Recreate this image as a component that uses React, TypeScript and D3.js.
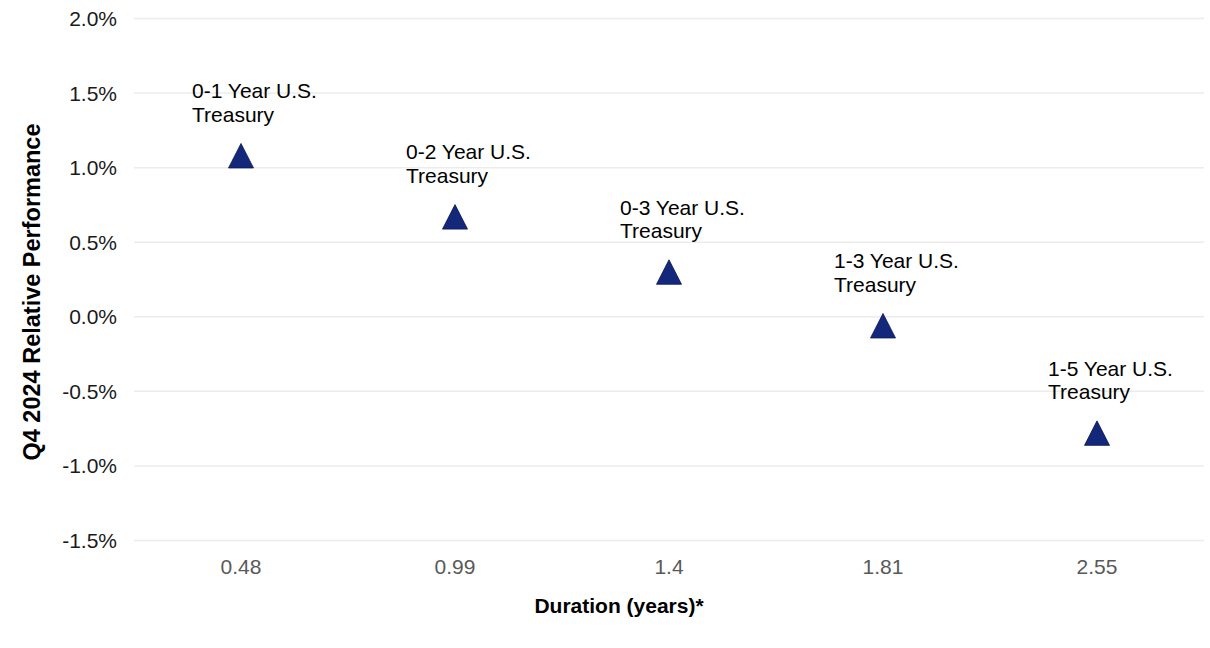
import * as d3 from 'd3'

// durations shown on the x axis (categorical)
const durations = ['0.48', '0.99', '1.4', '1.81', '2.55']
const funds = [
  '0-1 Year U.S.|Treasury',
  '0-2 Year U.S.|Treasury',
  '0-3 Year U.S.|Treasury',
  '1-3 Year U.S.|Treasury',
  '1-5 Year U.S.|Treasury',
]
// Q4 2024 relative performance, in percent
const performance = [1.08, 0.67, 0.3, -0.06, -0.78]
const yTicks = [2.0, 1.5, 1.0, 0.5, 0.0, -0.5, -1.0, -1.5]

const width = 1210
const height = 648
const margin = { top: 18.5, right: 6, bottom: 107.5, left: 134 }

const font = '"Liberation Sans", Arial, Helvetica, sans-serif'
const navy = '#13287a'

const triangle = (w: number, h: number) => {
  const p = d3.path()
  p.moveTo(0, -h / 2)
  p.lineTo(w / 2, h / 2)
  p.lineTo(-w / 2, h / 2)
  p.closePath()
  return p.toString()
}

export default function App() {
  const x = d3
    .scaleBand<string>()
    .domain(durations)
    .range([margin.left, width - margin.right])
  const y = d3
    .scaleLinear()
    .domain([-1.5, 2.0])
    .range([height - margin.bottom, margin.top])

  const fmt = (v: number) => `${v.toFixed(1)}%`
  const marker = triangle(25, 24.5)

  return (
    <svg
      width={width}
      height={height}
      style={{ position: 'absolute', left: 0, top: 0, background: '#fff' }}
      fontFamily={font}
    >
      {/* grid + y ticks */}
      {yTicks.map((t) => (
        <g key={t}>
          <line
            x1={margin.left}
            x2={width - margin.right}
            y1={y(t)}
            y2={y(t)}
            stroke="#ececec"
            strokeWidth={1.5}
          />
          <text
            x={117}
            y={y(t) + 7.5}
            textAnchor="end"
            fontSize={21}
            fill="#1a1a1a"
          >
            {fmt(t)}
          </text>
        </g>
      ))}

      {/* x ticks */}
      {durations.map((d) => (
        <text
          key={d}
          x={x(d)! + x.bandwidth() / 2}
          y={574}
          textAnchor="middle"
          fontSize={21}
          fill="#595959"
        >
          {d}
        </text>
      ))}

      {/* points + labels */}
      {durations.map((d, i) => {
        const cx = x(d)! + x.bandwidth() / 2
        const cy = y(performance[i])
        const lines = funds[i].split('|')
        return (
          <g key={d}>
            <path
              d={marker}
              transform={`translate(${cx},${cy})`}
              fill={navy}
              stroke="#0b1850"
              strokeWidth={0.8}
            />
            {lines.map((l, j) => (
              <text
                key={j}
                x={cx - 49}
                y={cy - 34 - (lines.length - 1 - j) * 23.5}
                fontSize={21}
                fill="#000"
              >
                {l}
              </text>
            ))}
          </g>
        )
      })}

      {/* axis titles */}
      <text
        x={619}
        y={613}
        textAnchor="middle"
        fontSize={21}
        fontWeight="bold"
        fill="#000"
      >
        Duration (years)*
      </text>
      <text
        transform={`translate(39.5,${292}) rotate(-90)`}
        textAnchor="middle"
        fontSize={23.5}
        fontWeight="bold"
        fill="#000"
      >
        Q4 2024 Relative Performance
      </text>
    </svg>
  )
}
